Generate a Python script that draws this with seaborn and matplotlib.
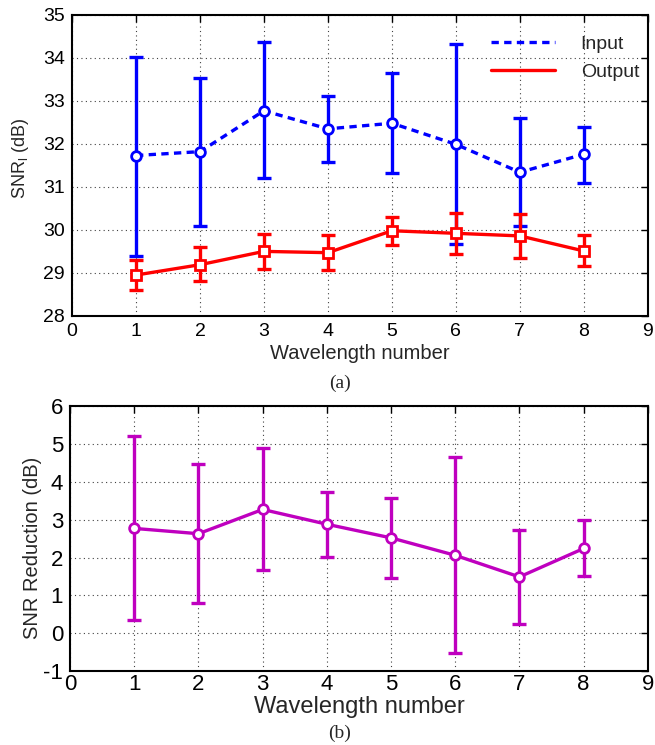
import matplotlib
matplotlib.use("Agg")
import matplotlib.pyplot as plt
import seaborn as sns
import pandas as pd
import numpy as np

# ---- data ----
wavelength = [1, 2, 3, 4, 5, 6, 7, 8]
input_mean = [31.73, 31.82, 32.77, 32.35, 32.48, 31.99, 31.34, 31.76]
input_hi   = [34.03, 33.54, 34.36, 33.11, 33.65, 34.32, 32.60, 32.40]
input_lo   = [29.40, 30.10, 31.20, 31.59, 31.33, 29.67, 30.10, 31.10]
output_mean = [28.95, 29.19, 29.50, 29.47, 29.98, 29.92, 29.86, 29.51]
output_hi   = [29.30, 29.60, 29.91, 29.87, 30.29, 30.39, 30.38, 29.87]
output_lo   = [28.60, 28.80, 29.09, 29.07, 29.65, 29.44, 29.34, 29.15]
red_mean = [2.77, 2.63, 3.27, 2.88, 2.52, 2.06, 1.49, 2.24]
red_hi   = [5.20, 4.46, 4.88, 3.73, 3.57, 4.65, 2.74, 3.00]
red_lo   = [0.34, 0.81, 1.66, 2.02, 1.46, -0.52, 0.25, 1.51]
series_names = ["Input", "Output"]

sns.set_style("white")
plt.rcParams['font.family'] = ['Liberation Sans', 'DejaVu Sans']
plt.rcParams['mathtext.fontset'] = 'custom'
plt.rcParams['mathtext.rm'] = 'Liberation Sans'
plt.rcParams['mathtext.it'] = 'Liberation Sans'
plt.rcParams['axes.unicode_minus'] = False

BLUE = '#0000FF'
RED = '#FF0000'
MAG = '#BF00BF'

fig = plt.figure(figsize=(6.55, 7.45), dpi=100)
ax1 = fig.add_axes([0.110, 0.576, 0.879, 0.404])
ax2 = fig.add_axes([0.107, 0.099, 0.882, 0.356])


def style_axes(ax, ylim, yticks, fs, xpad):
    ax.set_xlim(0, 9)
    ax.set_ylim(*ylim)
    ax.set_xticks(range(0, 10))
    ax.set_yticks(yticks)
    ax.grid(True, linestyle=(0, (1, 3)), color='#404040', linewidth=0.8)
    ax.tick_params(direction='in', top=True, right=True, length=5, width=1,
                   labelsize=fs, colors='black', pad=5)
    ax.tick_params(axis='x', pad=xpad)
    for s in ax.spines.values():
        s.set_color('black')
        s.set_linewidth(1.5)
    ax.set_axisbelow(True)


def draw(ax, x, mean, lo, hi, color, marker, ls, label):
    df = pd.DataFrame({'x': x, 'y': mean})
    sns.lineplot(data=df, x='x', y='y', ax=ax, color=color, linewidth=2.4,
                 linestyle=ls, label=label, legend=False, zorder=3)
    m = np.array(mean)
    yerr = [m - np.array(lo), np.array(hi) - m]
    ax.errorbar(x, mean, yerr=yerr, fmt='none', ecolor=color, elinewidth=2.4,
                capsize=5, capthick=2.4, zorder=3)
    ax.plot(x, mean, linestyle='none', marker=marker, markersize=7,
            markerfacecolor='white', markeredgecolor=color, markeredgewidth=2,
            zorder=4)


# ---- top panel ----
draw(ax1, wavelength, input_mean, input_lo, input_hi, BLUE, 'o', (0, (2.2, 1.6)), series_names[0])
draw(ax1, wavelength, output_mean, output_lo, output_hi, RED, 's', '-', series_names[1])
style_axes(ax1, (28, 35), range(28, 36), 14, 5)
ax1.set_xlabel('Wavelength number', fontsize=14.5, labelpad=3)
ax1.set_ylabel(r'SNR$_{\mathrm{l}}$ (dB)', fontsize=13)
ax1.yaxis.set_label_coords(-0.072, 0.522)
leg = ax1.legend(loc='upper right', frameon=False, fontsize=14, handlelength=3.3,
                 bbox_to_anchor=(0.985, 0.932), handletextpad=1.3, labelspacing=0.55,
                 borderpad=0, borderaxespad=0)
fig.text(0.519, 0.486, '(a)', ha='center', va='center', fontsize=14,
         family=['Liberation Serif', 'DejaVu Serif'])

# ---- bottom panel ----
draw(ax2, wavelength, red_mean, red_lo, red_hi, MAG, 'o', '-', 'Reduction')
style_axes(ax2, (-1, 6), range(-1, 7), 16, 2)
ax2.set_xlabel('Wavelength number', fontsize=17, labelpad=1)
ax2.set_ylabel('SNR Reduction (dB)', fontsize=14.5)
ax2.yaxis.set_label_coords(-0.049, 0.466)
fig.text(0.519, 0.016, '(b)', ha='center', va='center', fontsize=14,
         family=['Liberation Serif', 'DejaVu Serif'])

fig.savefig('out.png', dpi=100)
